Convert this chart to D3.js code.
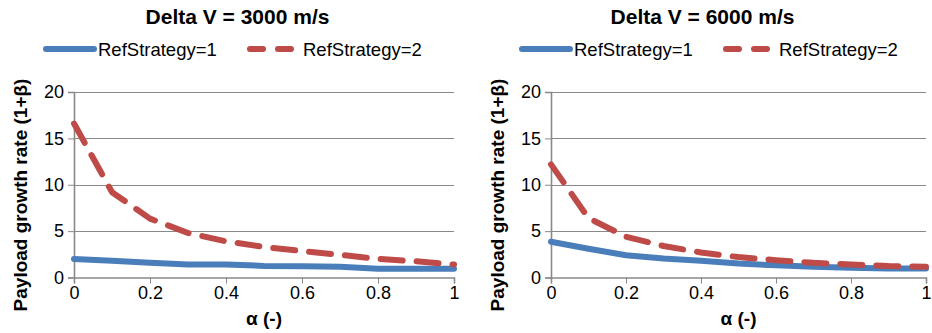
<!DOCTYPE html>
<html>
<head>
<meta charset="utf-8">
<script src="https://cdn.jsdelivr.net/npm/d3@7/dist/d3.min.js"></script>
<style>
  html, body { margin: 0; padding: 0; background: #fff; }
  svg { display: block; font-family: "Liberation Sans", Arial, Helvetica, sans-serif; }
</style>
</head>
<body>
<svg id="chart" width="932" height="333"></svg>
<script>
// ---- data ----
const alpha = [0, 0.1, 0.2, 0.3, 0.4, 0.5, 0.6, 0.7, 0.8, 0.9, 1.0];
const panelTitles = ["Delta V = 3000 m/s", "Delta V = 6000 m/s"];
const seriesNames = ["RefStrategy=1", "RefStrategy=2"];
const ref1_dv3000 = [2.0, 1.8, 1.6, 1.4, 1.4, 1.25, 1.2, 1.15, 0.95, 0.95, 0.95];
const ref2_dv3000 = [16.6, 9.2, 6.35, 4.8, 3.9, 3.3, 2.85, 2.45, 2.0, 1.75, 1.4];
const ref1_dv6000 = [3.85, 3.1, 2.4, 2.05, 1.8, 1.5, 1.32, 1.15, 1.05, 0.97, 0.97];
const ref2_dv6000 = [12.2, 6.4, 4.4, 3.4, 2.7, 2.2, 1.87, 1.58, 1.41, 1.23, 1.16];
const yTicks = [0, 5, 10, 15, 20];
const xTicks = [0, 0.2, 0.4, 0.6, 0.8, 1];
const yAxisTitle = "Payload growth rate (1+β)";
const xAxisTitle = "α (-)";

const seriesColors = ["#4A7EBB", "#BE4B48"];

const panels = [
  { title: panelTitles[0], s1: ref1_dv3000, s2: ref2_dv3000, x0: 74, x1: 454, titleX: 237.5, legendX: 43, yTitleX: 27 },
  { title: panelTitles[1], s1: ref1_dv6000, s2: ref2_dv6000, x0: 551, x1: 926, titleX: 702.5, legendX: 519, yTitleX: 504 }
];

const svg = d3.select("#chart");
const yTop = 92, yBot = 277.5;
const gridColor = "#898989";

panels.forEach(p => {
  const g = svg.append("g");
  const x = d3.scaleLinear().domain([0, 1]).range([p.x0, p.x1]);
  const y = d3.scaleLinear().domain([0, 20]).range([yBot, yTop]);

  // title
  g.append("text").attr("x", p.titleX).attr("y", 24)
    .attr("text-anchor", "middle").attr("font-weight", "bold").attr("font-size", 21)
    .attr("fill", "#000").text(p.title);

  // legend
  const ly = 49;
  const lg = g.append("g");
  lg.append("line").attr("x1", p.legendX + 3).attr("x2", p.legendX + 51).attr("y1", ly).attr("y2", ly)
    .attr("stroke", seriesColors[0]).attr("stroke-width", 6).attr("stroke-linecap", "round");
  lg.append("text").attr("x", p.legendX + 55).attr("y", 56).attr("font-size", 18.5).attr("fill", "#000").text(seriesNames[0]);
  lg.append("line").attr("x1", p.legendX + 207).attr("x2", p.legendX + 249).attr("y1", ly).attr("y2", ly)
    .attr("stroke", seriesColors[1]).attr("stroke-width", 6).attr("stroke-linecap", "round")
    .attr("stroke-dasharray", "13,15");
  lg.append("text").attr("x", p.legendX + 260).attr("y", 56).attr("font-size", 18.5).attr("fill", "#000").text(seriesNames[1]);

  // gridlines
  g.append("g").selectAll("line").data(yTicks.filter(d => d > 0)).join("line")
    .attr("x1", p.x0).attr("x2", p.x1)
    .attr("y1", d => Math.round(y(d)) + 0.5).attr("y2", d => Math.round(y(d)) + 0.5)
    .attr("stroke", gridColor).attr("stroke-width", 1);

  // y axis
  const yAxis = g.append("g").attr("transform", `translate(${p.x0},0)`)
    .call(d3.axisLeft(y).tickValues(yTicks).tickSize(6).tickPadding(4).tickFormat(d3.format("d")));
  yAxis.select(".domain").attr("stroke", gridColor).attr("stroke-width", 1.6);
  yAxis.selectAll(".tick line").attr("stroke", gridColor);
  yAxis.selectAll(".tick text").attr("font-size", 18).attr("fill", "#000");

  // x axis
  const xAxis = g.append("g").attr("transform", `translate(0,${yBot})`)
    .call(d3.axisBottom(x).tickValues(xTicks).tickSize(6).tickPadding(3).tickFormat(d3.format("~g")));
  xAxis.select(".domain").attr("stroke", gridColor).attr("stroke-width", 1.6);
  xAxis.selectAll(".tick line").attr("stroke", gridColor);
  xAxis.selectAll(".tick text").attr("font-size", 18).attr("fill", "#000");
  xAxis.attr("font-family", null); yAxis.attr("font-family", null);

  // axis titles
  g.append("text").attr("x", (p.x0 + p.x1) / 2).attr("y", 325)
    .attr("text-anchor", "middle").attr("font-weight", "bold").attr("font-size", 19)
    .attr("fill", "#000").text(xAxisTitle);
  g.append("text").attr("transform", `translate(${p.yTitleX},195) rotate(-90)`)
    .attr("text-anchor", "middle").attr("font-weight", "bold").attr("font-size", 19)
    .attr("fill", "#000").text(yAxisTitle);

  // series lines
  const line = d3.line().x((d, i) => x(alpha[i])).y(d => y(d));
  g.append("path").datum(p.s1).attr("d", line).attr("fill", "none")
    .attr("stroke", seriesColors[0]).attr("stroke-width", 6).attr("stroke-linejoin", "round").attr("stroke-linecap", "round");
  g.append("path").datum(p.s2).attr("d", line).attr("fill", "none")
    .attr("stroke", seriesColors[1]).attr("stroke-width", 6).attr("stroke-linejoin", "round").attr("stroke-linecap", "round")
    .attr("stroke-dasharray", "22,14");
});
</script>
</body>
</html>
